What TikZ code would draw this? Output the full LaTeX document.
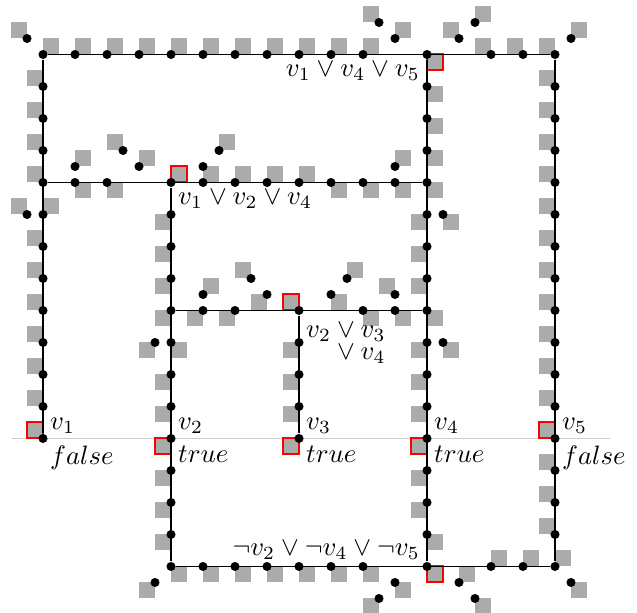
\documentclass[tikz,border=0pt]{standalone}
\usetikzlibrary{positioning}

\begin{document}
\begin{tikzpicture}[
    x=12pt, y=-12pt,
    wire/.style={line width=0.6pt},
    dot/.style={circle, fill, inner sep=0pt, minimum size=3.4pt},
    tile/.style={rectangle, fill=black!33, inner sep=0pt, minimum size=6pt},
    clause/.style={tile, draw=red, line width=0.75pt},
    txt/.style={inner sep=2.5pt}
]
\useasboundingbox (-1.344,-1.703) rectangle (18.5625,17.453);

% variable axis
\coordinate (axisl) at (-0.97,12);
\coordinate (axisr) at (17.72,12);
\draw[black!20] (axisl) -- (axisr);

% grey tiles along the wires
\foreach \i in {0,...,10} \node[tile] (tt\i) at (\i+0.25,-0.25) {};
\foreach \j in {1,2,3,4,6,7,8,9,10,11} \node[tile] (tl\j) at (-0.25,\j-0.25) {};
\foreach \j in {1,...,11,13,14,15} \node[tile] (tr\j) at (15.75,\j-0.25) {};
\foreach \j in {5,6,7,9,10,11,13,14} \node[tile] (tv4w\j) at (11.75,\j+0.25) {};
\foreach \j in {1,2,3,4,8,15} \node[tile] (tv4e\j) at (12.25,\j+0.25) {};
\foreach \j in {5,6,7,8,10,11,13,14,15} \node[tile] (tv2\j) at (3.75,\j+0.25) {};
\foreach \j in {9,10,11} \node[tile] (tv3\j) at (7.75,\j+0.25) {};
\foreach \i in {5,...,10} \node[tile] (tb\i) at (\i+0.25,16.25) {};
\foreach \i in {5,6,7,8} \node[tile] (trow\i) at (\i+0.25,3.75) {};
\foreach \i in {1,2,9,10,11} \node[tile] (tsrow\i) at (\i+0.25,4.25) {};
% tiles at the bends
\foreach \a/\b [count=\n] in {-1/-1, 10/-1.5, 11/-1, 12.5/-1, 13.5/-1.5, 13.5/-0.5, 14.5/-0.5,
    15.5/-0.5, 16.5/-1, 0/4.5, -1/4.5, 16/15.5, 16.5/16.5, 1/3, 2/2.5, 3/3, 5.5/2.5, 11/3,
    12.5/5, 12.5/9, 4/9, 3/9, 4/16, 3/16.5, 4.5/8, 5/7, 5.5/8, 6/6.5, 6.5/7.5, 9/7.5,
    9.5/6.5, 10/8, 10.5/7, 11/8, 11/16.5, 10/17, 13/16, 13.5/17, 14/15.5, 15/15.5}
    \node[tile] (tx\n) at (\a+0.25,\b+0.25) {};
% clause and variable tiles
\foreach \a/\b [count=\n] in {12/0, 4/3.5, 7.5/7.5, -0.5/11.5, 3.5/12, 7.5/12, 11.5/12, 15.5/11.5, 12/16}
    \node[clause] (tc\n) at (\a+0.25,\b+0.25) {};

% dots on the grid
\foreach \i in {0,...,10} \node[dot] (p\i-0) at (\i,0) {};
\foreach \i in {12,14,15} \node[dot] (p\i-0) at (\i,0) {};
\foreach \j in {1,...,12} \node[dot] (p0-\j) at (0,\j) {};
\foreach \j in {0,...,16} \node[dot] (p16-\j) at (16,\j) {};
\foreach \j in {1,...,16} \node[dot] (p12-\j) at (12,\j) {};
\foreach \j in {4,...,16} \node[dot] (p4-\j) at (4,\j) {};
\foreach \j in {8,...,12} \node[dot] (p8-\j) at (8,\j) {};
\foreach \i in {1,2,5,6,7,8,9,10,11} \node[dot] (p\i-4) at (\i,4) {};
\foreach \i in {5,6,10,11} \node[dot] (p\i-8) at (\i,8) {};
\foreach \i in {5,...,10,14,15} \node[dot] (p\i-16) at (\i,16) {};
% dots off the grid
\foreach \a/\b [count=\n] in {-0.5/-0.5, 10.5/-1, 11/-0.5, 13/-0.5, 13.5/-1, 16.5/-0.5,
    -0.5/5, 16.5/16.5, 1/3.5, 2.5/3, 3/3.5, 5/3.5, 5.5/3, 11/3.5, 12.5/5, 12.5/9,
    3.5/9, 3.5/16.5, 5/7.5, 6.5/7, 7/7.5, 9/7.5, 9.5/7, 11/7.5, 11/16.5, 10.5/17,
    13/16.5, 13.5/17}
    \node[dot] (q\n) at (\a,\b) {};

% wires
\draw[wire] (p0-0) -- (p16-0) -- (p16-16) -- (p4-16) -- (p4-4);
\draw[wire] (p0-0) -- (p0-12);
\draw[wire] (p12-0) -- (p12-16);
\draw[wire] (p0-4) -- (p12-4);
\draw[wire] (p4-8) -- (p12-8);
\draw[wire] (p8-8) -- (p8-12);

% clauses
\node[txt, below left=0pt of p12-0.center] (c145) {$v_1 \vee v_4 \vee v_5$};
\node[txt, below right=0pt of p4-4.center] (c124) {$v_1 \vee v_2 \vee v_4$};
\node[txt, align=right, below right=2pt and 0pt of p8-8.center] (c234) {$v_2 \vee v_3$\\[-4pt]${}\vee v_4$};
\node[txt, above left=0pt of p12-16.center] (c245) {$\neg v_2 \vee \neg v_4 \vee \neg v_5$};

% variables
\foreach \i/\n/\val in {0/1/false, 4/2/true, 8/3/true, 12/4/true, 16/5/false} {
    \node[txt, inner ysep=1.5pt, above right=0pt of p\i-12.center] (name\n) {$v_\n$};
    \node[txt, below right=0pt of p\i-12.center] (val\n) {$\val$};
}
\end{tikzpicture}
\end{document}
